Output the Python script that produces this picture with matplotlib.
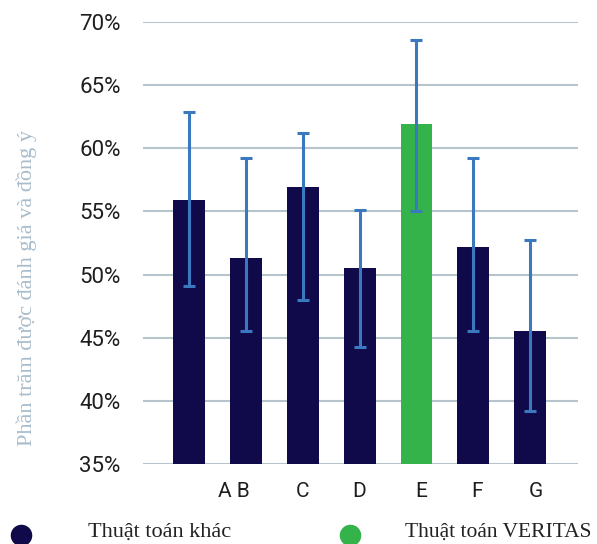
import numpy as np
import matplotlib.pyplot as plt
from matplotlib.lines import Line2D
from matplotlib.transforms import ScaledTranslation

# données (en %)
labels = ["", "A B", "C", "D", "E", "F", "G"]
values = [55.9, 51.3, 56.9, 50.5, 61.9, 52.2, 45.5]
err_high = [62.9, 59.2, 61.2, 55.1, 68.6, 59.2, 52.7]
err_low = [49.1, 45.5, 48.0, 44.3, 55.0, 45.5, 39.2]
is_veritas = [False, False, False, False, True, False, False]

navy = "#10094a"
green = "#34b34a"
err_col = "#3a78bf"
grid_col = "#b8c4cc"

fig = plt.figure(figsize=(5.97, 5.44), dpi=100)
ax = fig.add_axes([0.2395, 0.147, 0.7285, 0.8126])

x = np.arange(len(values))
colors = [green if v else navy for v in is_veritas]
ax.bar(x, values, width=0.56, color=colors, zorder=2)
vals = np.array(values)
yerr = [vals - np.array(err_low), np.array(err_high) - vals]
ax.errorbar(x, vals, yerr=yerr, fmt="none", ecolor=err_col, elinewidth=2.2,
            capsize=4.5, capthick=2.2, zorder=3)

ax.set_ylim(35, 70)
ax.set_xlim(-0.81, 6.84)
ax.set_yticks(np.arange(35, 71, 5))
ax.set_yticklabels([f"{v}%" for v in range(35, 71, 5)])
ax.set_xticks(x)
ax.set_xticklabels(labels)
ax.grid(axis="y", color=grid_col, linewidth=1.5, zorder=0)
ax.set_axisbelow(True)
for s in ax.spines.values():
    s.set_visible(False)
ax.tick_params(axis="y", length=0, pad=16, labelsize=16, labelcolor="#1e1e1e")
ax.tick_params(axis="x", length=0, pad=13, labelsize=15, labelcolor="#1e1e1e")
for t in ax.get_xticklabels() + ax.get_yticklabels():
    t.set_fontfamily("Roboto")

# petits décalages des étiquettes comme sur l'original
shifts = [0, -12, 0, 0, 5, 4, 6]
for t, dx in zip(ax.get_xticklabels(), shifts):
    t.set_transform(t.get_transform() + ScaledTranslation(dx / 100, 0, fig.dpi_scale_trans))

fig.text(0.045, 0.47, "Phần trăm được đánh giá và đồng ý", rotation=90,
         ha="center", va="center", family="Liberation Serif", fontsize=16,
         color="#a8bccb")

# légende
fig.add_artist(Line2D([21 / 597], [9 / 544], marker="o", markersize=14.5,
                      color=navy, transform=fig.transFigure))
fig.add_artist(Line2D([350 / 597], [9 / 544], marker="o", markersize=14.5,
                      color=green, transform=fig.transFigure))
fig.text(88 / 597, 7 / 544, "Thuật toán khác", ha="left", va="baseline",
         family="Liberation Serif", fontsize=16, color="#222222")
fig.text(405 / 597, 7 / 544, "Thuật toán VERITAS", ha="left", va="baseline",
         family="Liberation Serif", fontsize=15.5, color="#222222")

fig.savefig("out.png", dpi=100)
